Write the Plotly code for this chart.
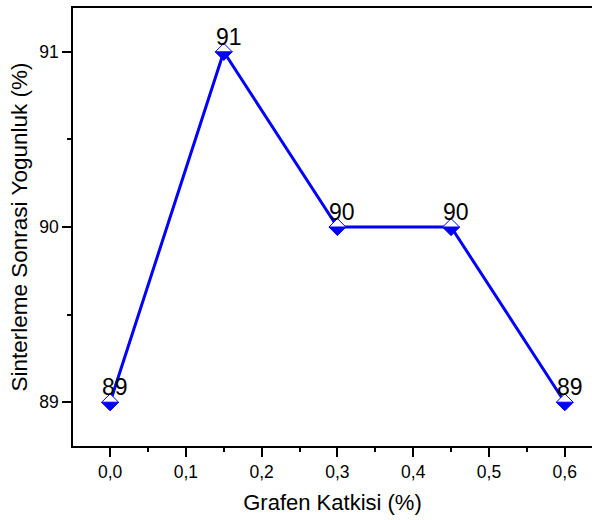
import plotly.graph_objects as go

grafen = [0.0, 0.15, 0.30, 0.45, 0.60]
yogunluk = [89, 91, 90, 90, 89]
labels = ["89", "91", "90", "90", "89"]
x_ticks = [0.0, 0.1, 0.2, 0.3, 0.4, 0.5, 0.6]
x_ticktext = ["0,0", "0,1", "0,2", "0,3", "0,4", "0,5", "0,6"]
y_ticks = [89, 90, 91]

BLUE = "#0000FF"
FONT = "Arial, Liberation Sans, sans-serif"

fig = go.Figure()
fig.add_trace(go.Scatter(
    x=grafen, y=yogunluk, mode="lines+markers",
    line=dict(color=BLUE, width=3),
    marker=dict(symbol="diamond", size=13, color="white",
                line=dict(color=BLUE, width=1)),
    showlegend=False, hoverinfo="skip", cliponaxis=False,
))

shapes = []
for xv, yv in zip(grafen, yogunluk):
    shapes.append(dict(
        type="path", xref="x", yref="y",
        xsizemode="pixel", ysizemode="pixel",
        xanchor=xv, yanchor=yv,
        path="M -8.5,0 L 8.5,0 L 0,-8.5 Z",
        fillcolor=BLUE, line=dict(color=BLUE, width=1),
        layer="above",
    ))

annotations = []
for xv, yv, t in zip(grafen, yogunluk, labels):
    annotations.append(dict(
        x=xv, y=yv, xref="x", yref="y", text=t, showarrow=False,
        xshift=5, yshift=15, font=dict(family=FONT, size=23, color="black"),
    ))

fig.update_layout(
    width=592, height=520,
    margin=dict(l=73, r=0, t=8, b=74),
    plot_bgcolor="white", paper_bgcolor="white",
    shapes=shapes, annotations=annotations,
    font=dict(family=FONT, color="black"),
    xaxis=dict(
        range=[-0.049, 0.636], tickvals=x_ticks, ticktext=x_ticktext,
        showgrid=False, zeroline=False,
        showline=True, linecolor="black", linewidth=1.5, mirror=True,
        ticks="outside", ticklen=9, tickwidth=1.5, tickcolor="black",
        tickfont=dict(size=17.5),
        minor=dict(dtick=0.05, tick0=0, ticks="outside", ticklen=4,
                   tickwidth=1.5, tickcolor="black", showgrid=False),
        title=dict(text="Grafen Katkisi (%)", font=dict(size=22), standoff=14),
    ),
    yaxis=dict(
        range=[88.75, 91.25], tickvals=y_ticks,
        showgrid=False, zeroline=False,
        showline=True, linecolor="black", linewidth=1.5,
        ticks="outside", ticklen=9, tickwidth=1.5, tickcolor="black",
        tickfont=dict(size=17.5),
        minor=dict(dtick=0.5, tick0=89, ticks="outside", ticklen=4,
                   tickwidth=1.5, tickcolor="black", showgrid=False),
        title=dict(text="Sinterleme Sonrasi Yogunluk (%)", font=dict(size=22.5),
                   standoff=5),
    ),
)

fig.write_html("out.html")
